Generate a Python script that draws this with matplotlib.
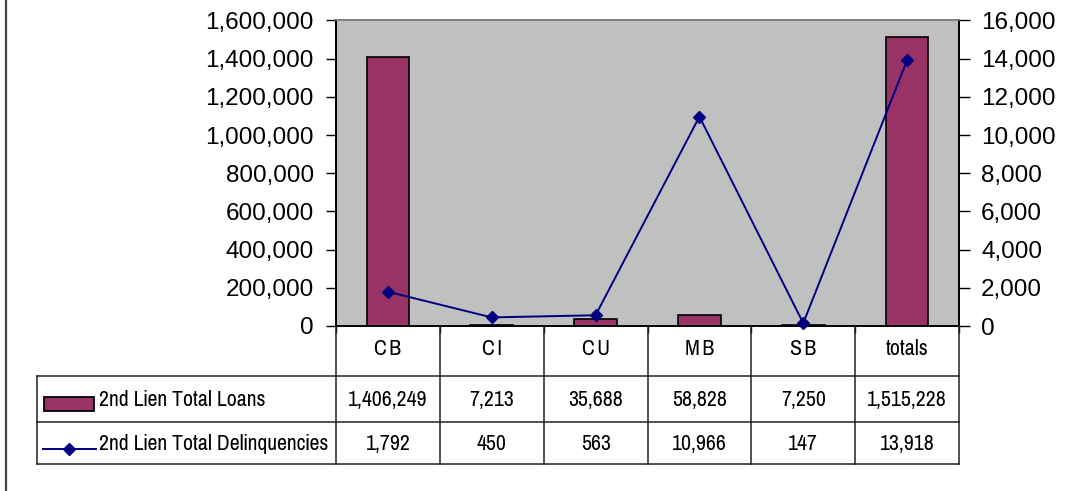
import matplotlib
matplotlib.use("Agg")
import matplotlib.pyplot as plt
from matplotlib.lines import Line2D
from matplotlib.patches import Rectangle
from matplotlib.ticker import FuncFormatter
import numpy as np
import logging
logging.getLogger("matplotlib.font_manager").setLevel(logging.ERROR)

categories = ["CB", "CI", "CU", "MB", "SB", "totals"]
loans = [1406249, 7213, 35688, 58828, 7250, 1515228]
delinquencies = [1792, 450, 563, 10966, 147, 13918]
series_names = ["2nd Lien Total Loans", "2nd Lien Total Delinquencies"]
left_ticks = [0, 200000, 400000, 600000, 800000, 1000000, 1200000, 1400000, 1600000]
right_ticks = [0, 2000, 4000, 6000, 8000, 10000, 12000, 14000, 16000]

W, H = 1082, 491
BAR_COLOR = "#993366"
LINE_COLOR = "#000080"
TICK_FONT = ["Liberation Sans", "DejaVu Sans"]
TABLE_FONT = ["Liberation Sans Narrow", "Arial Narrow", "Pragati Narrow",
              "Roboto Condensed", "Archivo Narrow", "Liberation Sans", "DejaVu Sans"]

fig = plt.figure(figsize=(W / 100, H / 100), dpi=100)
fig.patch.set_facecolor("white")

def fx(x):
    return x / W

def fy(y):
    return 1 - y / H

pl, pr, pt, pb = 336, 959, 20.5, 326
ax = fig.add_axes([fx(pl), fy(pb), fx(pr) - fx(pl), fy(pt) - fy(pb)])
ax.set_facecolor("#C0C0C0")
x = np.arange(len(categories))
ax.bar(x, loans, width=0.41, color=BAR_COLOR, edgecolor="black", linewidth=1.2, zorder=2)
ax.set_xlim(-0.5, len(categories) - 0.5)
ax.set_ylim(left_ticks[0], left_ticks[-1])
ax.set_yticks(left_ticks)
ax.yaxis.set_major_formatter(FuncFormatter(lambda v, p: f"{int(v):,}"))
ax.set_xticks(np.arange(len(categories) + 1) - 0.5)
ax.set_xticklabels([])
ax.tick_params(axis="x", direction="out", length=5, width=1)
ax.tick_params(axis="y", direction="out", length=7, width=1, pad=9, labelsize=17.5)
for lab in ax.get_yticklabels():
    lab.set_family(TICK_FONT)
for s in ["left", "right", "bottom"]:
    ax.spines[s].set_color("black")
    ax.spines[s].set_linewidth(1.2)
ax.spines["top"].set_color("#808080")
ax.spines["top"].set_linewidth(1.2)

ax2 = ax.twinx()
ax2.plot(x, delinquencies, color=LINE_COLOR, linewidth=1.4, marker="D", markersize=6.5,
         markerfacecolor=LINE_COLOR, markeredgecolor=LINE_COLOR, zorder=3, clip_on=False)
ax2.set_ylim(right_ticks[0], right_ticks[-1])
ax2.set_yticks(right_ticks)
ax2.yaxis.set_major_formatter(FuncFormatter(lambda v, p: f"{int(v):,}"))
ax2.tick_params(axis="y", direction="out", length=8, width=1, pad=8, labelsize=17.5)
for lab in ax2.get_yticklabels():
    lab.set_family(TICK_FONT)
for s in ["left", "right", "bottom"]:
    ax2.spines[s].set_color("black")
    ax2.spines[s].set_linewidth(1.2)
ax2.spines["top"].set_color("#808080")
ax2.spines["top"].set_linewidth(1.2)

# data table
tl = 36.5
row_y = [326, 376, 422, 463.5]
col_x = [pl + (pr - pl) * i / len(categories) for i in range(len(categories) + 1)]
lc = "#202020"
lw = 1.1

def hline(x0, x1, y):
    fig.add_artist(Line2D([fx(x0), fx(x1)], [fy(y), fy(y)], color=lc, linewidth=lw))

def vline(x, y0, y1):
    fig.add_artist(Line2D([fx(x), fx(x)], [fy(y0), fy(y1)], color=lc, linewidth=lw))

hline(tl, pr, row_y[1])
hline(tl, pr, row_y[2])
hline(tl, pr, row_y[3])
vline(tl, row_y[1], row_y[3])
for cx in col_x:
    vline(cx, row_y[0], row_y[3])

def spaced(s):
    return "\u200a".join(s) if s.isupper() else s

TFS = 17
for i, c in enumerate(categories):
    cxm = (col_x[i] + col_x[i + 1]) / 2
    fig.text(fx(cxm), fy(349), spaced(c), ha="center", va="center", fontsize=TFS,
             family=TABLE_FONT, color="black")
    fig.text(fx(cxm), fy(400), f"{loans[i]:,}", ha="center", va="center", fontsize=TFS,
             family=TABLE_FONT, color="black")
    fig.text(fx(cxm), fy(444), f"{delinquencies[i]:,}", ha="center", va="center", fontsize=TFS,
             family=TABLE_FONT, color="black")

# legend keys
fig.add_artist(Rectangle((fx(43.5), fy(410.5)), fx(94) - fx(43.5), fy(397) - fy(410.5),
                         facecolor=BAR_COLOR, edgecolor="black", linewidth=1.3))
fig.add_artist(Line2D([fx(43), fx(96)], [fy(448.5), fy(448.5)], color=LINE_COLOR, linewidth=1.4))
fig.add_artist(Line2D([fx(69)], [fy(448.5)], color=LINE_COLOR, marker="D", markersize=6.5,
                      markerfacecolor=LINE_COLOR, markeredgecolor=LINE_COLOR))
fig.text(fx(99), fy(400), series_names[0], ha="left", va="center", fontsize=TFS,
         family=TABLE_FONT, color="black")
fig.text(fx(99), fy(444), series_names[1], ha="left", va="center", fontsize=TFS,
         family=TABLE_FONT, color="black")

# left border of the chart area
fig.add_artist(Line2D([fx(6), fx(6)], [0, 1], color="#404040", linewidth=1.6))

fig.savefig("out.png", dpi=100)
